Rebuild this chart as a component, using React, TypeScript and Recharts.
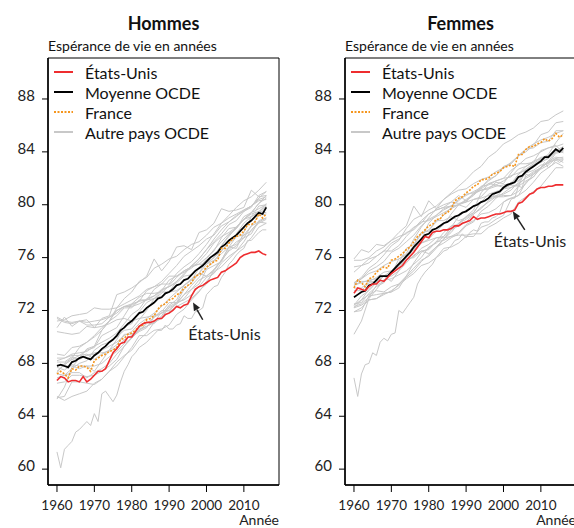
import React from "react";
import {
  LineChart,
  Line,
  XAxis,
  YAxis,
  ReferenceArea,
  ReferenceLine,
  ReferenceDot,
  Legend
} from "recharts";

const FONT = "Lato, 'Open Sans', sans-serif";
const RED = "#ee2d2f";
const ORANGE = "#f5961e";
const GRAY = "#c8c8c8";

const X_DOMAIN: [number, number] = [1957.6, 2019.4];
const Y_DOMAIN: [number, number] = [58.8, 91.1];
const X_TICKS = [1960, 1970, 1980, 1990, 2000, 2010];
const Y_TICKS = [60, 64, 68, 72, 76, 80, 84, 88];

const YEARS = [
  1960, 1961, 1962, 1963, 1964, 1965, 1966, 1967, 1968, 1969,
  1970, 1971, 1972, 1973, 1974, 1975, 1976, 1977, 1978, 1979,
  1980, 1981, 1982, 1983, 1984, 1985, 1986, 1987, 1988, 1989,
  1990, 1991, 1992, 1993, 1994, 1995, 1996, 1997, 1998, 1999,
  2000, 2001, 2002, 2003, 2004, 2005, 2006, 2007, 2008, 2009,
  2010, 2011, 2012, 2013, 2014, 2015, 2016
];

const EVEN_YEARS = [
  1960, 1962, 1964, 1966, 1968, 1970, 1972, 1974, 1976, 1978,
  1980, 1982, 1984, 1986, 1988, 1990, 1992, 1994, 1996, 1998,
  2000, 2002, 2004, 2006, 2008, 2010, 2012, 2014, 2016
];

// ---- Hommes, séries annuelles
const USA_M = [
  66.7, 67.0, 66.9, 66.6, 66.7, 66.7, 66.6, 67.0, 66.6, 66.8,
  67.1, 67.4, 67.4, 67.6, 68.2, 68.8, 69.1, 69.5, 69.6, 70.0,
  70.0, 70.4, 70.8, 71.0, 71.1, 71.1, 71.2, 71.4, 71.4, 71.7,
  71.8, 72.0, 72.3, 72.2, 72.4, 72.5, 73.1, 73.6, 73.8, 73.9,
  74.1, 74.3, 74.4, 74.5, 74.9, 75.0, 75.2, 75.4, 75.6, 76.0,
  76.2, 76.3, 76.4, 76.4, 76.5, 76.3, 76.2
];
const OECD_M = [
  67.8, 67.9, 67.8, 67.7, 68.1, 68.2, 68.4, 68.5, 68.4, 68.3,
  68.6, 68.8, 69.1, 69.3, 69.6, 69.8, 70.1, 70.5, 70.7, 71.0,
  71.2, 71.5, 71.8, 71.9, 72.2, 72.4, 72.6, 72.9, 73.0, 73.3,
  73.4, 73.6, 73.9, 74.0, 74.3, 74.4, 74.7, 75.0, 75.2, 75.4,
  75.7, 76.0, 76.2, 76.4, 76.8, 77.0, 77.3, 77.5, 77.7, 78.0,
  78.3, 78.6, 78.8, 79.1, 79.4, 79.3, 79.8
];
const FRA_M = [
  67.2, 67.4, 67.2, 66.9, 67.6, 67.5, 67.8, 67.8, 67.7, 67.4,
  68.2, 68.4, 68.6, 68.7, 68.9, 69.0, 69.2, 69.8, 69.9, 70.2,
  70.3, 70.5, 70.8, 70.9, 71.3, 71.4, 71.6, 72.1, 72.4, 72.5,
  72.8, 72.9, 73.2, 73.3, 73.7, 73.9, 74.1, 74.6, 74.7, 74.9,
  75.3, 75.5, 75.7, 75.8, 76.7, 76.7, 77.1, 77.4, 77.6, 77.7,
  78.0, 78.5, 78.5, 78.7, 79.3, 79.0, 79.3
];
const PRT_M = [
  61.3, 60.1, 61.5, 61.8, 62.1, 62.8, 63.0, 63.3, 63.6, 63.3,
  64.2, 63.6, 65.7, 65.9, 65.5, 65.1, 65.6, 66.6, 67.4, 67.9,
  68.5, 68.8, 69.2, 69.4, 69.6, 69.9, 70.2, 70.5, 70.5, 70.9,
  70.6, 70.6, 70.9, 71.0, 71.6, 71.4, 71.4, 71.9, 72.0, 72.2,
  73.2, 73.5, 73.8, 73.9, 74.5, 74.9, 75.5, 75.8, 76.2, 76.5,
  76.7, 77.3, 77.3, 77.6, 77.9, 78.1, 78.1
];

// ---- Hommes, autres pays (tous les deux ans)
const JPN_M = [65.3, 66.2, 67.7, 68.4, 69.1, 69.3, 70.5, 71.2, 72.2, 72.9, 73.4, 74.2, 74.5, 75.2, 75.5, 75.9, 76.1, 76.6, 77.0, 77.2, 77.7, 78.3, 78.6, 79.0, 79.3, 79.6, 79.9, 80.5, 81.0];
const SWE_M = [71.2, 71.3, 71.6, 71.7, 71.8, 72.2, 72.1, 72.1, 72.2, 72.5, 72.8, 73.1, 73.6, 73.8, 74.2, 74.8, 75.4, 76.1, 76.5, 76.9, 77.4, 77.7, 78.4, 78.7, 79.1, 79.6, 79.9, 80.4, 80.6];
const NOR_M = [71.4, 71.1, 71.0, 71.2, 71.1, 71.2, 71.3, 71.5, 71.8, 72.3, 72.3, 72.5, 72.8, 72.9, 73.1, 73.4, 74.2, 74.8, 75.4, 75.5, 76.0, 76.5, 77.5, 78.2, 78.3, 78.9, 79.4, 80.1, 80.7];
const NLD_M = [71.5, 71.2, 71.1, 71.2, 70.9, 70.9, 71.0, 71.5, 72.0, 72.3, 72.5, 72.7, 72.8, 73.1, 73.6, 73.8, 74.1, 74.6, 74.7, 75.2, 75.6, 76.0, 76.9, 77.6, 78.3, 78.9, 79.1, 79.9, 80.0];
const ISL_M = [70.7, 71.5, 70.8, 71.2, 71.3, 70.7, 71.4, 71.6, 73.2, 73.4, 73.7, 74.1, 74.6, 75.9, 75.0, 75.7, 76.8, 76.9, 76.6, 77.9, 78.1, 78.6, 79.7, 79.5, 79.6, 79.8, 81.1, 80.6, 80.7];
const DNK_M = [70.4, 70.3, 70.2, 70.3, 70.8, 70.7, 70.8, 71.0, 71.3, 71.4, 71.2, 71.4, 71.5, 71.6, 71.8, 72.0, 72.6, 72.8, 73.2, 73.8, 74.5, 74.8, 75.6, 76.1, 76.5, 77.2, 78.1, 78.7, 79.0];
const CHE_M = [68.7, 68.6, 69.2, 69.3, 69.6, 70.0, 70.5, 71.2, 72.0, 72.3, 72.4, 72.7, 73.5, 73.8, 74.0, 74.0, 74.8, 75.3, 75.7, 76.3, 77.0, 77.8, 78.6, 79.2, 79.8, 80.3, 80.6, 81.1, 81.7];
const GBR_M = [67.9, 67.9, 68.3, 68.4, 68.6, 68.7, 69.0, 69.3, 69.6, 70.1, 70.4, 71.0, 71.4, 71.8, 72.3, 72.9, 73.4, 73.9, 74.3, 74.8, 75.5, 76.0, 76.5, 77.2, 77.8, 78.6, 79.1, 79.5, 79.4];
const AUS_M = [67.9, 67.8, 67.8, 67.6, 67.8, 67.4, 68.2, 69.0, 69.8, 70.8, 71.0, 71.9, 72.6, 72.9, 73.3, 73.9, 74.5, 75.0, 75.3, 75.9, 76.6, 77.4, 78.1, 78.7, 79.2, 79.5, 79.9, 80.3, 80.4];
const CAN_M = [68.2, 68.4, 68.7, 68.8, 68.9, 69.3, 69.6, 69.9, 70.3, 71.0, 71.7, 72.1, 72.9, 73.1, 73.5, 74.3, 74.6, 74.9, 75.2, 75.7, 76.3, 77.1, 77.6, 77.9, 78.3, 78.9, 79.4, 79.7, 80.0];
const NZL_M = [68.4, 68.4, 68.6, 68.6, 68.7, 68.3, 68.7, 69.0, 69.4, 70.2, 70.2, 70.7, 71.1, 71.0, 71.6, 72.4, 72.8, 73.9, 74.3, 75.2, 75.9, 76.6, 77.2, 77.8, 78.2, 78.9, 79.3, 79.5, 79.9];
const ITA_M = [67.2, 67.1, 67.6, 68.0, 68.2, 69.0, 69.4, 69.6, 70.0, 70.5, 70.6, 71.3, 72.0, 72.9, 73.5, 73.8, 74.2, 74.7, 75.4, 75.9, 76.6, 77.2, 77.8, 78.5, 78.8, 79.5, 79.8, 80.7, 81.0];
const ESP_M = [67.4, 67.9, 68.3, 68.6, 69.0, 69.2, 70.1, 70.4, 70.7, 71.6, 72.5, 73.0, 73.3, 73.3, 73.4, 73.4, 73.5, 73.9, 74.4, 74.8, 75.8, 76.2, 76.9, 77.7, 78.2, 79.1, 79.4, 80.1, 80.5];
const DEU_M = [66.9, 67.1, 67.3, 67.3, 66.9, 67.3, 67.6, 68.0, 68.7, 69.3, 69.9, 70.5, 71.0, 71.5, 72.0, 72.0, 72.5, 72.9, 73.6, 74.0, 75.1, 75.4, 75.7, 76.6, 77.2, 77.5, 78.4, 78.7, 78.6];
const BEL_M = [67.7, 67.5, 67.9, 67.8, 67.8, 67.8, 68.0, 68.5, 68.9, 69.5, 69.9, 70.6, 70.8, 71.1, 71.9, 72.6, 72.6, 73.2, 73.6, 74.3, 74.6, 75.1, 75.8, 76.5, 76.9, 77.5, 77.8, 78.8, 79.0];
const AUT_M = [65.4, 65.5, 66.6, 66.6, 66.5, 66.4, 66.8, 67.4, 68.1, 68.6, 69.0, 69.8, 70.3, 71.1, 71.5, 72.2, 72.5, 73.2, 73.9, 74.5, 75.2, 75.7, 76.5, 77.1, 77.6, 77.7, 78.4, 79.2, 79.3];
const FIN_M = [65.5, 65.2, 65.5, 65.7, 65.9, 66.5, 66.8, 67.4, 67.8, 68.5, 69.2, 70.1, 70.1, 70.5, 70.6, 70.9, 71.7, 72.1, 72.8, 73.4, 74.2, 74.9, 75.3, 75.9, 76.5, 76.9, 77.5, 78.3, 78.6];
const GRC_M = [67.3, 68.0, 68.4, 69.2, 69.6, 70.1, 70.7, 71.2, 71.6, 72.2, 72.2, 72.8, 72.8, 73.6, 74.0, 74.6, 74.6, 75.0, 75.3, 75.5, 75.5, 75.8, 76.3, 76.8, 77.0, 77.7, 78.0, 78.6, 78.9];
const IRL_M = [68.1, 68.1, 68.5, 68.3, 68.6, 68.8, 68.8, 68.9, 69.2, 69.8, 70.1, 70.5, 70.8, 71.1, 71.4, 71.9, 72.3, 72.6, 72.9, 73.5, 74.0, 75.1, 75.8, 76.8, 77.6, 78.3, 78.8, 79.3, 79.9];
const LUX_M = [66.5, 66.6, 67.1, 67.1, 67.0, 67.1, 67.4, 67.8, 68.3, 69.3, 70.0, 70.4, 70.7, 71.5, 71.8, 72.3, 72.6, 73.6, 74.1, 74.8, 74.6, 75.0, 75.8, 76.8, 76.7, 77.9, 79.1, 79.4, 80.1];

// ---- Femmes, séries annuelles
const USA_W = [
  73.3, 73.7, 73.6, 73.5, 73.8, 74.0, 74.0, 74.3, 74.2, 74.5,
  74.8, 75.0, 75.2, 75.4, 75.8, 76.1, 76.4, 76.8, 77.2, 77.6,
  77.5, 77.9, 78.0, 78.0, 78.1, 78.1, 78.2, 78.4, 78.4, 78.6,
  78.7, 78.8, 79.1, 78.9, 79.0, 79.0, 79.1, 79.2, 79.3, 79.3,
  79.4, 79.5, 79.5, 79.6, 80.1, 80.2, 80.5, 80.8, 80.9, 81.2,
  81.3, 81.3, 81.4, 81.4, 81.5, 81.5, 81.5
];
const OECD_W = [
  73.0, 73.2, 73.4, 73.5, 73.9, 74.0, 74.3, 74.6, 74.6, 74.6,
  74.9, 75.2, 75.5, 75.8, 76.1, 76.4, 76.8, 77.1, 77.4, 77.7,
  77.8, 78.1, 78.2, 78.4, 78.6, 78.7, 78.9, 79.1, 79.2, 79.4,
  79.5, 79.7, 79.9, 80.0, 80.2, 80.3, 80.5, 80.8, 80.9, 81.0,
  81.3, 81.5, 81.6, 81.7, 82.1, 82.2, 82.5, 82.7, 82.9, 83.1,
  83.3, 83.6, 83.6, 83.9, 84.2, 84.0, 84.3
];
const FRA_W = [
  73.7, 74.3, 74.1, 73.8, 74.4, 74.5, 74.9, 75.1, 75.3, 75.2,
  75.8, 75.9, 76.1, 76.3, 76.6, 76.8, 77.2, 77.6, 77.8, 78.1,
  78.4, 78.5, 78.9, 78.9, 79.3, 79.4, 79.7, 80.3, 80.5, 80.6,
  80.9, 81.1, 81.4, 81.5, 81.9, 81.9, 82.0, 82.3, 82.4, 82.5,
  82.8, 82.9, 83.0, 82.9, 83.8, 83.8, 84.2, 84.4, 84.4, 84.6,
  84.7, 85.0, 84.8, 85.0, 85.4, 85.1, 85.3
];
const PRT_W = [
  66.9, 65.5, 67.2, 67.9, 68.0, 68.8, 68.6, 69.6, 69.9, 69.7,
  70.2, 70.3, 72.0, 71.8, 72.2, 72.6, 73.0, 74.0, 74.5, 74.9,
  75.2, 75.5, 76.0, 76.2, 76.5, 76.6, 76.9, 77.3, 77.4, 77.8,
  77.5, 77.9, 78.1, 78.0, 78.6, 78.7, 78.7, 79.0, 79.1, 79.4,
  80.2, 80.4, 80.5, 80.5, 81.4, 81.3, 82.3, 82.2, 82.4, 82.6,
  82.8, 83.2, 82.8, 83.0, 83.4, 83.2, 83.4
];

// ---- Femmes, autres pays (tous les deux ans)
const JPN_W = [70.2, 71.2, 72.9, 73.6, 74.3, 74.7, 75.9, 76.3, 77.4, 78.3, 79.0, 79.7, 80.4, 80.9, 81.4, 81.9, 82.5, 82.9, 83.6, 84.0, 84.6, 84.9, 85.3, 85.5, 85.8, 86.3, 86.4, 86.8, 87.1];
const SWE_W = [74.9, 75.4, 75.6, 76.1, 76.5, 77.1, 77.4, 77.9, 78.1, 78.7, 78.8, 79.1, 79.4, 79.7, 80.0, 80.4, 80.8, 81.4, 81.5, 81.8, 82.0, 82.1, 82.7, 82.9, 83.2, 83.6, 83.6, 84.1, 84.1];
const NOR_W = [75.8, 75.8, 76.0, 76.5, 76.8, 77.3, 77.6, 77.8, 78.3, 78.6, 79.3, 79.6, 79.8, 79.9, 80.0, 79.8, 80.4, 80.6, 81.2, 81.4, 81.5, 81.6, 82.3, 82.7, 83.0, 83.2, 83.5, 84.1, 84.2];
const NLD_W = [75.3, 75.4, 75.9, 76.1, 76.5, 76.5, 76.9, 77.6, 78.2, 78.8, 79.3, 79.6, 79.8, 80.2, 80.1, 80.2, 80.4, 80.5, 80.7, 80.6, 80.7, 80.7, 81.0, 81.6, 82.3, 82.7, 83.0, 83.5, 83.2];
const ISL_W = [75.9, 76.6, 76.4, 77.0, 76.9, 77.3, 77.9, 78.4, 79.9, 79.1, 80.3, 79.7, 80.0, 80.2, 80.7, 80.3, 80.8, 81.1, 81.2, 81.7, 81.6, 82.4, 83.1, 83.1, 83.2, 84.1, 84.3, 84.5, 83.9];
const DNK_W = [74.1, 74.4, 74.8, 75.0, 75.4, 75.7, 75.9, 76.2, 76.6, 77.1, 77.3, 77.5, 77.5, 77.6, 77.7, 77.7, 77.8, 77.8, 78.3, 78.6, 79.0, 79.3, 80.2, 80.6, 81.0, 81.4, 82.1, 82.8, 82.8];
const CHE_W = [74.1, 74.5, 75.2, 75.6, 76.2, 76.9, 77.3, 78.2, 78.9, 79.2, 79.6, 79.9, 80.4, 80.8, 81.1, 81.2, 81.6, 81.9, 82.1, 82.5, 82.8, 83.1, 83.7, 84.2, 84.6, 84.9, 85.1, 85.4, 85.6];
const GBR_W = [73.7, 73.7, 74.2, 74.5, 74.9, 75.0, 75.3, 75.9, 76.0, 76.5, 76.6, 77.2, 77.3, 77.6, 77.9, 78.5, 78.8, 79.3, 79.4, 79.7, 80.2, 80.5, 80.7, 81.1, 81.7, 82.4, 82.8, 83.2, 82.9];
const AUS_W = [73.9, 74.2, 74.2, 74.2, 74.6, 74.2, 75.0, 76.2, 76.9, 77.8, 78.1, 78.7, 79.2, 79.8, 80.0, 80.2, 80.9, 81.2, 81.6, 81.8, 82.0, 82.6, 83.0, 83.5, 83.7, 84.0, 84.3, 84.4, 84.6];
const CAN_W = [74.0, 74.4, 75.0, 75.3, 75.7, 76.4, 76.7, 77.2, 77.7, 78.4, 78.9, 79.2, 79.7, 79.9, 80.3, 80.8, 80.9, 81.1, 81.3, 81.5, 81.8, 82.2, 82.4, 82.6, 82.9, 83.4, 83.7, 84.0, 84.2];
const NZL_W = [73.9, 74.1, 74.3, 74.4, 74.6, 74.6, 75.0, 75.6, 76.2, 76.5, 76.3, 76.8, 77.1, 77.5, 77.8, 78.4, 78.7, 79.5, 79.9, 80.5, 80.9, 81.3, 81.6, 82.0, 82.3, 82.8, 83.2, 83.4, 83.4];
const ITA_W = [72.3, 72.5, 73.0, 73.9, 74.2, 74.9, 75.4, 75.8, 76.4, 77.1, 77.4, 78.0, 78.5, 79.3, 80.0, 80.3, 80.7, 81.3, 81.8, 82.2, 82.8, 83.2, 83.7, 84.2, 84.3, 84.7, 84.8, 85.6, 85.6];
const ESP_W = [72.2, 72.8, 73.6, 74.1, 74.6, 74.7, 75.4, 76.0, 76.6, 77.4, 78.6, 79.2, 79.6, 79.9, 80.4, 80.7, 81.0, 81.3, 81.9, 82.2, 82.9, 83.1, 83.7, 84.0, 84.5, 85.3, 85.5, 86.2, 86.3];
const DEU_W = [72.4, 72.8, 73.2, 73.5, 73.4, 73.8, 74.0, 74.5, 75.0, 75.7, 76.2, 76.8, 77.4, 78.1, 78.4, 78.7, 79.3, 79.8, 80.2, 80.6, 81.2, 81.3, 81.5, 82.1, 82.5, 82.8, 83.3, 83.6, 83.5];
const BEL_W = [73.5, 73.5, 74.1, 74.1, 74.3, 74.4, 74.7, 75.0, 75.5, 76.0, 76.8, 77.1, 77.6, 78.1, 78.6, 79.1, 79.4, 80.2, 80.5, 80.7, 80.8, 81.1, 81.7, 82.4, 82.6, 83.0, 83.1, 83.9, 84.0];
const AUT_W = [71.9, 72.0, 73.1, 73.2, 73.3, 73.4, 73.7, 74.6, 75.2, 75.8, 76.1, 76.7, 77.4, 77.9, 78.6, 78.9, 79.3, 79.7, 80.3, 80.9, 81.2, 81.7, 81.8, 82.6, 83.0, 83.4, 83.5, 84.0, 84.1];
const FIN_W = [72.5, 72.6, 73.3, 73.8, 74.1, 75.0, 75.6, 76.7, 77.0, 77.9, 78.0, 78.8, 78.8, 79.1, 78.8, 79.0, 79.4, 80.2, 80.8, 81.0, 81.2, 81.5, 82.3, 82.9, 83.3, 83.5, 83.7, 84.1, 84.4];
const GRC_W = [72.4, 73.1, 73.5, 74.1, 74.6, 75.0, 75.5, 75.8, 76.1, 76.7, 77.0, 77.5, 77.6, 78.3, 79.1, 79.6, 79.9, 80.2, 80.4, 80.6, 80.6, 80.7, 81.4, 81.8, 82.1, 82.8, 83.3, 84.0, 84.0];
const IRL_W = [71.9, 72.2, 72.8, 72.9, 73.2, 73.5, 73.9, 74.4, 74.8, 75.4, 75.6, 76.0, 76.7, 76.8, 77.1, 77.6, 77.6, 78.3, 78.5, 78.9, 79.2, 80.4, 80.7, 81.7, 82.1, 82.8, 83.2, 83.5, 83.6];
const LUX_W = [72.2, 72.4, 72.8, 72.9, 73.3, 73.4, 74.0, 74.6, 75.6, 76.4, 76.7, 77.2, 77.9, 78.4, 78.5, 79.1, 79.6, 80.9, 81.6, 81.5, 81.3, 81.5, 81.4, 82.7, 83.1, 83.5, 83.8, 84.7, 85.4];

const MEN_OTHERS: [string, number[]][] = [
  ["jpn", JPN_M], ["swe", SWE_M], ["nor", NOR_M], ["nld", NLD_M], ["isl", ISL_M],
  ["dnk", DNK_M], ["che", CHE_M], ["gbr", GBR_M], ["aus", AUS_M], ["can", CAN_M],
  ["nzl", NZL_M], ["ita", ITA_M], ["esp", ESP_M], ["deu", DEU_M], ["bel", BEL_M],
  ["aut", AUT_M], ["fin", FIN_M], ["grc", GRC_M], ["irl", IRL_M], ["lux", LUX_M]
];
const WOMEN_OTHERS: [string, number[]][] = [
  ["jpn", JPN_W], ["swe", SWE_W], ["nor", NOR_W], ["nld", NLD_W], ["isl", ISL_W],
  ["dnk", DNK_W], ["che", CHE_W], ["gbr", GBR_W], ["aus", AUS_W], ["can", CAN_W],
  ["nzl", NZL_W], ["ita", ITA_W], ["esp", ESP_W], ["deu", DEU_W], ["bel", BEL_W],
  ["aut", AUT_W], ["fin", FIN_W], ["grc", GRC_W], ["irl", IRL_W], ["lux", LUX_W]
];

const LEGEND_ITEMS = [
  { label: "États-Unis", color: RED, dash: undefined as string | undefined },
  { label: "Moyenne OCDE", color: "#000", dash: undefined },
  { label: "France", color: ORANGE, dash: "2 1.5" },
  { label: "Autre pays OCDE", color: GRAY, dash: undefined }
];

type Row = { year: number; [key: string]: number };

function buildRows(annual: [string, number[]][], biennial: [string, number[]][]): Row[] {
  return YEARS.map((year, i) => {
    const row: Row = { year };
    annual.forEach(([key, values]) => {
      row[key] = values[i];
    });
    const j = EVEN_YEARS.indexOf(year);
    if (j >= 0) {
      biennial.forEach(([key, values]) => {
        row[key] = values[j];
      });
    }
    return row;
  });
}

const menRows = buildRows(
  [["usa", USA_M], ["oecd", OECD_M], ["fra", FRA_M], ["prt", PRT_M]],
  MEN_OTHERS
);
const womenRows = buildRows(
  [["usa", USA_W], ["oecd", OECD_W], ["fra", FRA_W], ["prt", PRT_W]],
  WOMEN_OTHERS
);

const ArrowShape = (props: any) => {
  const { x1, y1, x2, y2 } = props;
  const ang = Math.atan2(y2 - y1, x2 - x1);
  const len = 8;
  const half = 3.5;
  const bx = x2 - len * Math.cos(ang);
  const by = y2 - len * Math.sin(ang);
  const p1 = `${bx + half * Math.sin(ang)},${by - half * Math.cos(ang)}`;
  const p2 = `${bx - half * Math.sin(ang)},${by + half * Math.cos(ang)}`;
  return (
    <g>
      <line x1={x1} y1={y1} x2={bx} y2={by} stroke="#222" strokeWidth={1.5} />
      <polygon points={`${x2},${y2} ${p1} ${p2}`} fill="#222" />
    </g>
  );
};

const renderLegend = () => (
  <div style={{ fontFamily: FONT, fontSize: 16, color: "#111" }}>
    {LEGEND_ITEMS.map((item) => (
      <div key={item.label} style={{ display: "flex", alignItems: "center", height: 20 }}>
        <svg width={24} height={20}>
          <line
            x1={2}
            x2={21}
            y1={10}
            y2={10}
            stroke={item.color}
            strokeWidth={2}
            strokeDasharray={item.dash}
          />
        </svg>
        <span style={{ marginLeft: 9, whiteSpace: "nowrap" }}>{item.label}</span>
      </div>
    ))}
  </div>
);

type PanelProps = {
  left: number;
  title: string;
  rows: Row[];
  others: [string, number[]][];
  arrowTail: { x: number; y: number };
  arrowHead: { x: number; y: number };
  note: { x: number; y: number };
};

function Panel({ left, title, rows, others, arrowTail, arrowHead, note }: PanelProps) {
  return (
    <div style={{ position: "absolute", left, top: 0, width: 290, height: 528 }}>
      <div
        style={{
          position: "absolute",
          left: 48,
          width: 231,
          top: 13,
          lineHeight: "20px",
          textAlign: "center",
          fontWeight: 700,
          fontSize: 18,
          color: "#111"
        }}
      >
        {title}
      </div>
      <div style={{ position: "absolute", left: 48, top: 38, lineHeight: "16px", fontSize: 14, color: "#111", whiteSpace: "nowrap" }}>
        Espérance de vie en années
      </div>
      <LineChart width={290} height={528} data={rows} margin={{ top: 58, right: 11, bottom: 13, left: 8 }}>
        <XAxis
          dataKey="year"
          type="number"
          domain={X_DOMAIN}
          ticks={X_TICKS}
          allowDataOverflow
          height={30}
          tickSize={7}
          tickMargin={8}
          axisLine={{ stroke: "#000", strokeWidth: 1.5 }}
          tickLine={{ stroke: "#000" }}
          tick={{ fill: "#222", fontSize: 13.5, fontFamily: FONT }}
        />
        <YAxis
          type="number"
          domain={Y_DOMAIN}
          ticks={Y_TICKS}
          allowDataOverflow
          width={40}
          tickSize={6}
          tickMargin={7}
          axisLine={{ stroke: "#000", strokeWidth: 1.5 }}
          tickLine={{ stroke: "#000" }}
          tick={{ fill: "#222", fontSize: 15, fontFamily: FONT, dy: -3 }}
        />
        <ReferenceArea
          x1={X_DOMAIN[0]}
          x2={X_DOMAIN[1]}
          y1={Y_DOMAIN[0]}
          y2={Y_DOMAIN[1]}
          fill="none"
          stroke="#000"
          strokeWidth={1}
        />
        {others.map(([key]) => (
          <Line
            key={key}
            dataKey={key}
            stroke={GRAY}
            strokeWidth={1}
            dot={false}
            connectNulls
            isAnimationActive={false}
          />
        ))}
        <Line dataKey="prt" stroke={GRAY} strokeWidth={1} dot={false} isAnimationActive={false} />
        <Line dataKey="oecd" stroke="#000" strokeWidth={1.8} dot={false} isAnimationActive={false} />
        <Line
          dataKey="fra"
          stroke={ORANGE}
          strokeWidth={1.6}
          strokeDasharray="2 1.5"
          dot={false}
          isAnimationActive={false}
        />
        <Line dataKey="usa" stroke={RED} strokeWidth={1.6} dot={false} isAnimationActive={false} />
        <ReferenceLine segment={[arrowTail, arrowHead]} shape={ArrowShape} />
        <ReferenceDot
          x={note.x}
          y={note.y}
          r={0}
          fill="none"
          stroke="none"
          label={{ value: "États-Unis", position: "center", fontSize: 16, fill: "#222", fontFamily: FONT }}
        />
        <Legend
          content={renderLegend}
          layout="vertical"
          align="center"
          verticalAlign="middle"
          wrapperStyle={{ left: 52, top: 62, width: 220 }}
        />
      </LineChart>
      <div
        style={{
          position: "absolute",
          right: 11,
          top: 513,
          lineHeight: "14px",
          fontSize: 14,
          color: "#222"
        }}
      >
        Année
      </div>
    </div>
  );
}

export default function App() {
  return (
    <div
      style={{
        position: "fixed",
        left: 0,
        top: 0,
        width: 574,
        height: 528,
        overflow: "hidden",
        background: "#fff",
        fontFamily: FONT
      }}
    >
      <Panel
        left={0}
        title="Hommes"
        rows={menRows}
        others={MEN_OTHERS}
        arrowTail={{ x: 1999.0, y: 71.3 }}
        arrowHead={{ x: 1996.4, y: 72.6 }}
        note={{ x: 2004.8, y: 70.2 }}
      />
      <Panel
        left={297}
        title="Femmes"
        rows={womenRows}
        others={WOMEN_OTHERS}
        arrowTail={{ x: 2005.7, y: 78.1 }}
        arrowHead={{ x: 2002.5, y: 79.5 }}
        note={{ x: 2007.1, y: 77.2 }}
      />
    </div>
  );
}
